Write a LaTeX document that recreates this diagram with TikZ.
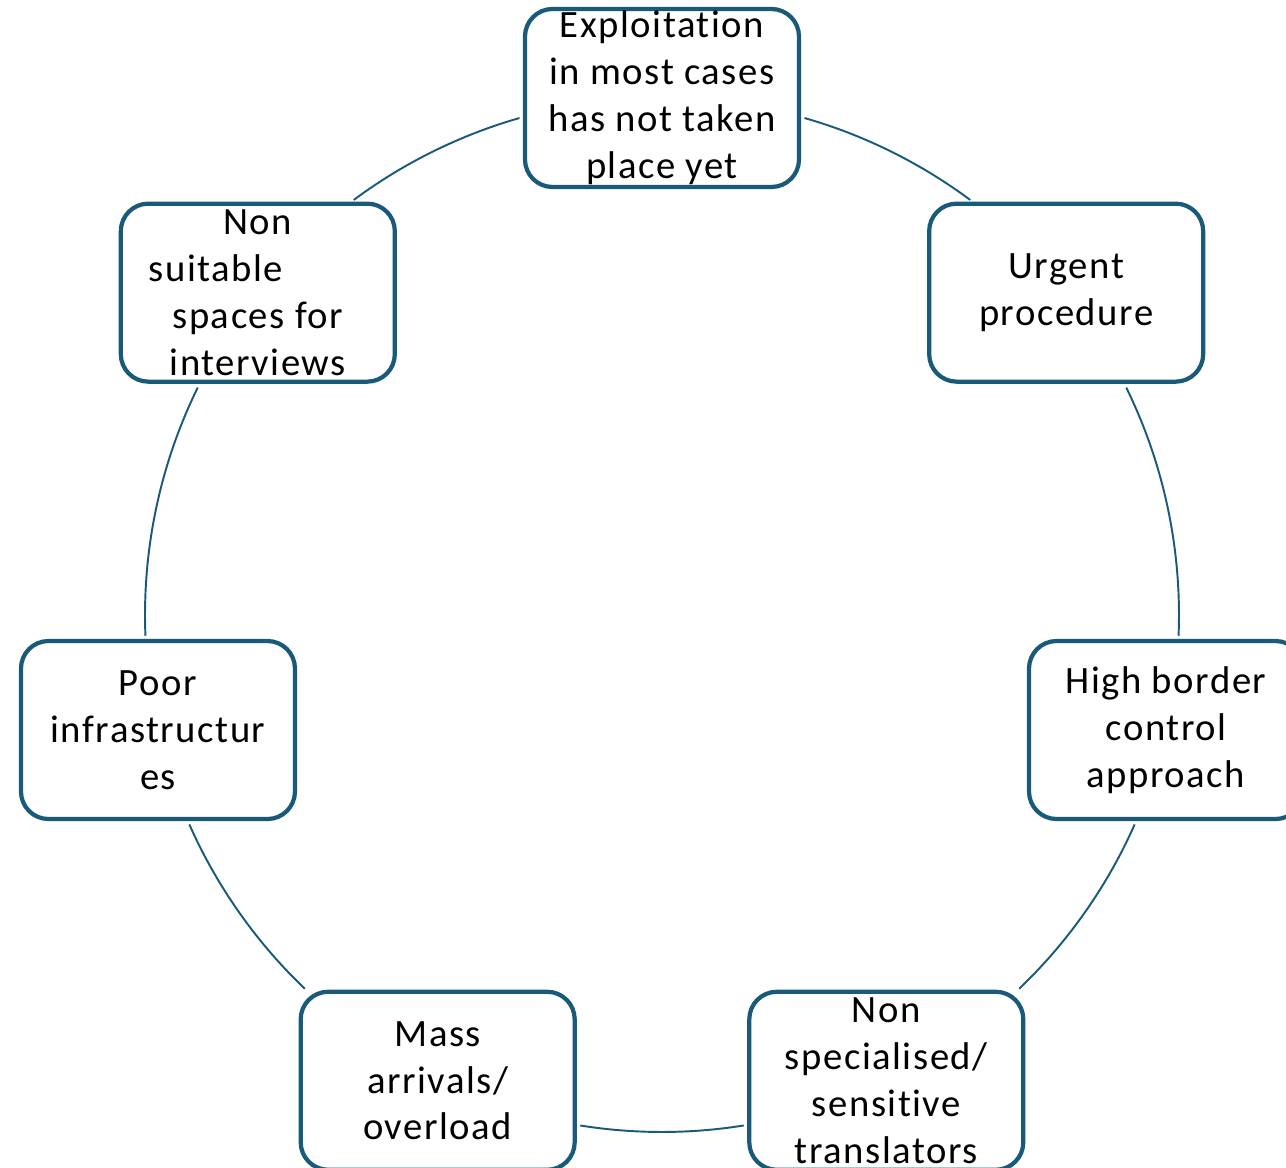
\documentclass[tikz,border=0pt]{standalone}
\usepackage{fontspec}
\setmainfont{Carlito}[LetterSpace=4, Ligatures=NoCommon]
\usepackage{tikz}
\definecolor{cycleblue}{HTML}{195A7A}
\tikzset{%
  every issue/.style={
    rectangle,
    draw=cycleblue,
    fill=white,
    line width=2.4pt,
    rounded corners=0.55cm,
    minimum width=5.48cm,
    minimum height=3.56cm,
    inner sep=0pt,
    align=center,
    font=\fontsize{22pt}{26.7pt}\selectfont
  },
  ring arc/.style={
    draw=cycleblue,
    line width=1.1pt
  },
}
\begin{document}
\begin{tikzpicture}
\useasboundingbox (-13.24,-11.06) rectangle (12.48,12.3);
\foreach \t [count=\i from 0] in {%
  {Exploitation\\in most cases\\has not taken\\place yet},
  {Urgent\\procedure},
  {High border\\control\\approach},
  {Non\\specialised/\\sensitive\\translators},
  {Mass\\arrivals/\\overload},
  {Poor\\infrastructur\\es},
  {Non\\\mbox{suitable\hspace{1.68cm}}\\spaces for\\interviews}}
  \node [every issue] (issue-\i) at (90-\i*51.4286:10.34cm) {\t};

% arcs of the ring between the boxes
\foreach \a/\b [count=\i] in {74/53.4, 26.1/-2.3, -23.9/-46.3, -80.9/-99.1,
    -133.7/-156.1, 182.3/153.9, 126.6/106}
{
  \coordinate (ring-\i) at (\a:10.34cm);
  \draw [ring arc] (ring-\i) arc [start angle=\a, end angle=\b, radius=10.34cm];
}
\end{tikzpicture}
\end{document}
